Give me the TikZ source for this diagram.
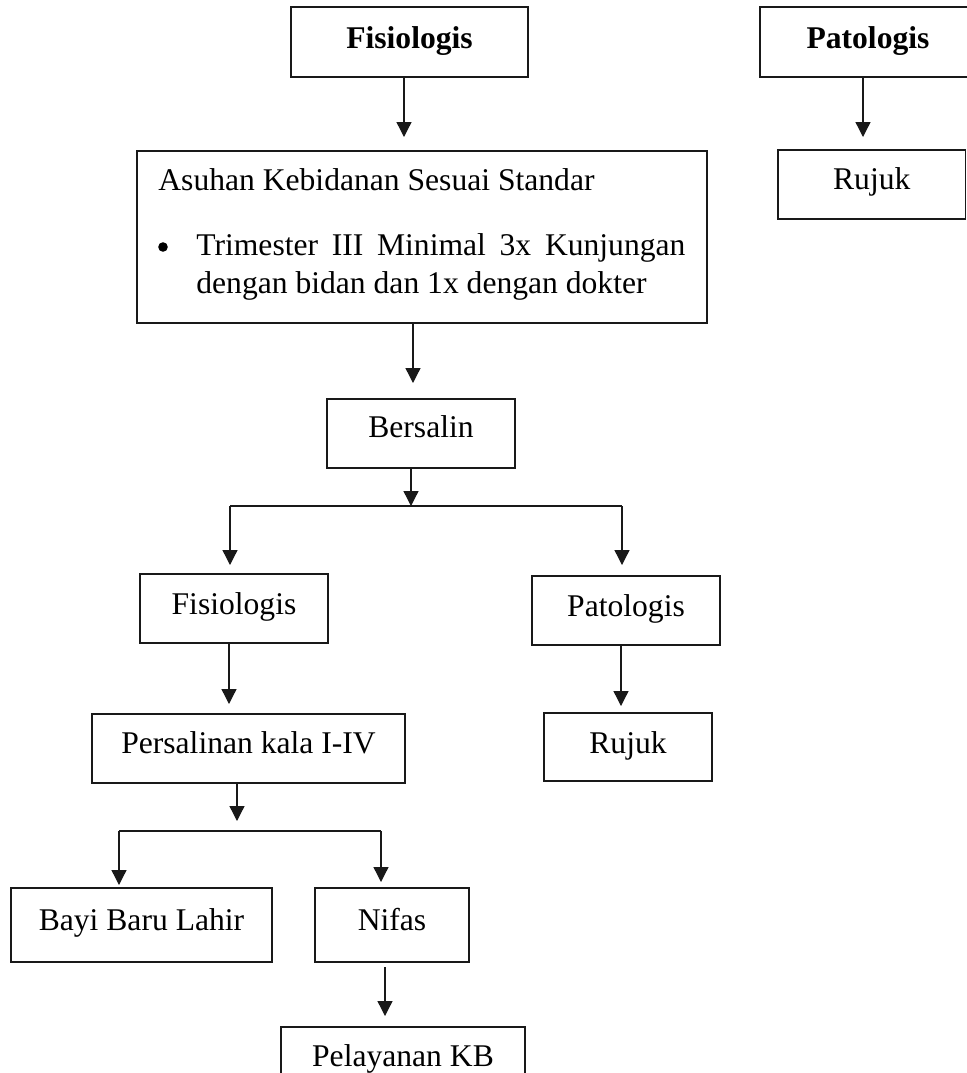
\documentclass[tikz,border=0pt]{standalone}
\usepackage{fontspec}
\setmainfont{Liberation Serif}
\usetikzlibrary{arrows.meta}
\newcommand\myfs{\fontsize{15.8pt}{19pt}\selectfont}
% name, x1, y1, x2, y2, baseline, text
\newcommand\bx[7]{%
  \pgfmathsetmacro\bw{(#4-#2)*0.5}%
  \pgfmathsetmacro\bth{(#6-#3)*0.5}%
  \pgfmathsetmacro\btd{(#5-#6)*0.5}%
  \pgfmathsetmacro\bcx{(#2+#4)/2}%
  \pgfmathsetmacro\bcy{(#3+#5)/2}%
  \node[box, minimum width=\bw pt, text height=\bth pt, text depth=\btd pt] (#1) at (\bcx,\bcy) {#7};}
\tikzset{
  box/.style={draw=black!90, line width=0.65pt, rectangle, inner xsep=0pt, inner ysep=0pt, outer sep=0pt, minimum height=0pt},
  arr/.style={draw=black!90, line width=0.65pt, -{Triangle[length=7.5pt,width=7.5pt]}},
  ln/.style={draw=black!90, line width=0.65pt},
  every node/.style={font=\myfs}
}
\begin{document}
\begin{tikzpicture}[x=0.5pt,y=-0.5pt]
\useasboundingbox (0,0) rectangle (966,1073);
% top row
\bx{fisA}{291}{7}{528}{77}{48}{\textbf{Fisiologis}}
\bx{patA}{760}{7}{976}{77}{48}{\textbf{Patologis}}
\bx{rujA}{778}{150}{965.5}{219}{189}{Rujuk}
% Asuhan box
\node[box, minimum width=285pt, minimum height=86pt] (asuhan) at (422,237) {};
\node[anchor=base west, inner sep=0pt] (asuhanT) at (158,190) {Asuhan Kebidanan Sesuai Standar};
\node[circle, fill=black, inner sep=0pt, minimum size=4.8pt] (bul) at (163,247) {};
\node[anchor=base west, inner sep=0pt] (lineA) at (196,255) {\hbox to 244.5pt{Trimester\hfill III\hfill Minimal\hfill 3x\hfill Kunjungan}};
\node[anchor=base west, inner sep=0pt] (lineB) at (196,293) {dengan bidan dan 1x dengan dokter};
% middle
\bx{bersalin}{327}{399}{515}{468}{437}{Bersalin}
\bx{fisB}{140}{574}{328}{643}{614}{Fisiologis}
\bx{patB}{532}{576}{720}{645}{616}{Patologis}
\bx{persalinan}{92}{714}{405}{783}{753}{Persalinan kala I-IV}
\bx{rujB}{544}{713}{712}{781}{753}{Rujuk}
% bottom
\bx{bayi}{11}{888}{272}{962}{930}{Bayi Baru Lahir}
\bx{nifas}{315}{888}{469}{962}{930}{Nifas}
\bx{kb}{281}{1027}{525}{1097}{1066}{Pelayanan KB}
% split coordinates
\coordinate (sA) at (411,506);
\coordinate (sAl) at (230,506);
\coordinate (sAr) at (622,506);
\coordinate (sB) at (237,831);
\coordinate (sBl) at (119,831);
\coordinate (sBr) at (381,831);
% connectors
\draw[arr, shorten >=7pt] ([xshift=-2.75pt]fisA.south) -- ([xshift=-2.75pt]fisA.south |- asuhan.north);
\draw[arr, shorten >=6.5pt] ([xshift=-2.5pt]patA.south) -- ([xshift=-2.5pt]patA.south |- rujA.north);
\draw[arr, shorten >=8pt] ([xshift=-4.5pt]asuhan.south) -- ([xshift=-4.5pt]asuhan.south |- bersalin.north);
\draw[arr] ([xshift=-5pt]bersalin.south) -- (sA);
\draw[ln] (sAl) -- (sAr);
\draw[arr, shorten >=4.5pt] (sAl) -- (sAl |- fisB.north);
\draw[arr, shorten >=5.5pt] (sAr) -- (sAr |- patB.north);
\draw[arr, shorten >=5pt] ([xshift=-2.5pt]fisB.south) -- ([xshift=-2.5pt]fisB.south |- persalinan.north);
\draw[arr, shorten >=3.5pt] ([xshift=-2.5pt]patB.south) -- ([xshift=-2.5pt]patB.south |- rujB.north);
\draw[arr, shorten >=5pt] ([xshift=-5.75pt]persalinan.south) -- (sB);
\draw[ln] (sBl) -- (sBr);
\draw[arr, shorten >=1.5pt] (sBl) -- (sBl |- bayi.north);
\draw[arr, shorten >=3pt] (sBr) -- (sBr |- nifas.north);
\draw[arr, shorten <=2.5pt, shorten >=5.5pt] ([xshift=-3.5pt]nifas.south) -- ([xshift=-3.5pt]nifas.south |- kb.north);
\end{tikzpicture}
\end{document}
